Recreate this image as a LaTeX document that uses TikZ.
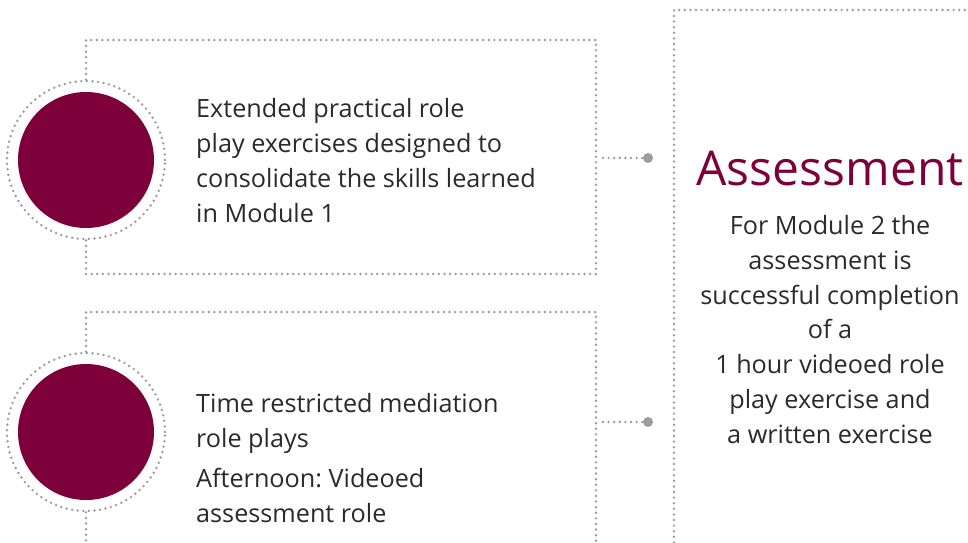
\documentclass[tikz,border=0pt]{standalone}
\usepackage{fontspec}
\setmainfont{Open Sans}
\usetikzlibrary{positioning}
\definecolor{maroon}{HTML}{7E003B}
\definecolor{dotgray}{HTML}{9C9CA0}
\definecolor{txtgray}{HTML}{2A2A2A}
\frenchspacing

\begin{document}
\begin{tikzpicture}[line cap=round,line join=round,x=1pt,y=-1pt,
    dots/.style={draw=dotgray,line width=2.7pt,dash pattern=on 0pt off 5.6pt},
    disc/.style={circle,fill=maroon,minimum size=136pt,inner sep=0pt},
    ring/.style={circle,dots,minimum size=158pt,inner sep=0pt},
    endpt/.style={circle,fill=dotgray,minimum size=10pt,inner sep=0pt},
    bodytxt/.style={anchor=base west,align=left,text=txtgray,
      font=\fontsize{25.2}{34.7}\selectfont,inner sep=0pt}]
      \useasboundingbox (0,0) rectangle (968,542);

      % circles
      \foreach \n/\y in {1/160,2/432}{
        \node[disc] (c\n) at (86,\y) {};
        \node[ring] (r\n) at (86,\y) {};
      }

      % frames round the two items
      \draw[dots] (r1.north) -- (86,40) -- (596,40) -- (596,274) -- (86,274) -- (r1.south);
      \draw[dots] (r2.north) -- (86,312) -- (596,312) -- (596,548);
      \draw[dots] (r2.south) -- (86,548);

      % frame of the assessment
      \draw[dots] (674,548) -- (674,10) -- (975,10);

      % connectors
      \node[endpt] (d1) at (648,158) {};
      \node[endpt] (d2) at (648,422) {};
      \coordinate (e1) at (603,158);
      \coordinate (e2) at (603,422);
      \draw[dots] (e1) -- (d1);
      \draw[dots] (e2) -- (d2);

      % texts (base = last line)
      \node[bodytxt] (t1) at (196,222) {Extended practical role\\play exercises designed to\\consolidate the skills learned\\in Module 1};
      \node[bodytxt] (t2) at (196,447) {Time restricted mediation\\role plays};
      \node[bodytxt] (t3) at (196,522) {Afternoon: Videoed\\assessment role};

      \node[anchor=base,text=maroon,font=\fontsize{48}{52}\selectfont,inner sep=0pt] (ttl) at (830,185) {Assessment};
      \node[anchor=base,align=center,text=txtgray,font=\fontsize{25.2}{34.7}\selectfont,inner sep=0pt] (asm) at (830,443)
        {For Module 2 the\\assessment is\\successful completion\\of a\\1 hour videoed role\\play exercise and\\a written exercise};
    \end{tikzpicture}
\end{document}
